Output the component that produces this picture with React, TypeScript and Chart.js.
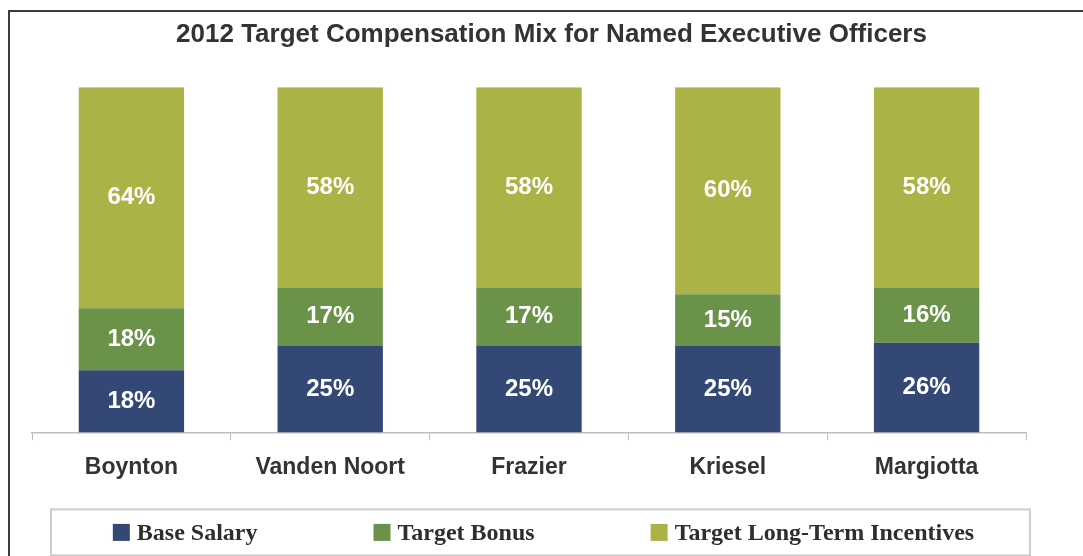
import React, { useEffect, useRef } from "react";
import { Chart, registerables } from "chart.js";

Chart.register(...registerables);

const categories = ["Boynton", "Vanden Noort", "Frazier", "Kriesel", "Margiotta"];
const baseSalary = [18, 25, 25, 25, 26];
const targetBonus = [18, 17, 17, 15, 16];
const longTermIncentives = [64, 58, 58, 60, 58];
const seriesNames = ["Base Salary", "Target Bonus", "Target Long-Term Incentives"];
const seriesColors = ["#344876", "#6a9248", "#abb346"];
const chartTitle = "2012 Target Compensation Mix for Named Executive Officers";

const SANS = '"Liberation Sans", Arial, sans-serif';
const SERIF = '"Liberation Serif", "Times New Roman", serif';

const dataLabelPlugin = {
  id: "dataLabels",
  afterDatasetsDraw(chart: any) {
    const ctx = chart.ctx;
    ctx.save();
    ctx.font = `bold 24px ${SANS}`;
    ctx.fillStyle = "#ffffff";
    ctx.textAlign = "center";
    ctx.textBaseline = "middle";
    chart.data.datasets.forEach((ds: any, di: number) => {
      const meta = chart.getDatasetMeta(di);
      meta.data.forEach((el: any, i: number) => {
        const v = ds.data[i];
        const y = (el.y + el.base) / 2;
        ctx.fillText(`${v}%`, el.x, y);
      });
    });
    ctx.restore();
  },
};

const legendPlugin = {
  id: "boxLegend",
  afterDraw(chart: any) {
    const ctx = chart.ctx;
    const area = chart.chartArea;
    ctx.save();
    // frame
    const boxLeft = area.left + 19;
    const boxRight = area.right + 4;
    const boxTop = area.bottom + 77;
    const boxBottom = boxTop + 46;
    ctx.strokeStyle = "#cccccc";
    ctx.lineWidth = 2;
    ctx.strokeRect(boxLeft, boxTop, boxRight - boxLeft, boxBottom - boxTop);
    // items
    ctx.font = `bold 24px ${SERIF}`;
    ctx.textBaseline = "middle";
    ctx.textAlign = "left";
    const box = 17;
    const inner = 7;
    const gap = 116;
    const widths = chart.data.datasets.map((ds: any) => box + inner + ctx.measureText(ds.label).width);
    const total = widths.reduce((a: number, b: number) => a + b, 0) + gap * (widths.length - 1);
    let x = chart.width / 2 + 2 - total / 2;
    const cy = (boxTop + boxBottom) / 2;
    chart.data.datasets.forEach((ds: any, i: number) => {
      ctx.fillStyle = ds.backgroundColor;
      ctx.fillRect(x, cy - box / 2, box, box);
      ctx.fillStyle = "#2e2e2e";
      ctx.fillText(ds.label, x + box + inner, cy + 1);
      x += widths[i] + gap;
    });
    ctx.restore();
  },
};

export default function App() {
  const ref = useRef<HTMLCanvasElement | null>(null);

  useEffect(() => {
    if (!ref.current) return;
    const chart = new Chart(ref.current, {
      type: "bar",
      data: {
        labels: categories,
        datasets: [
          { label: seriesNames[0], data: baseSalary, backgroundColor: seriesColors[0] },
          { label: seriesNames[1], data: targetBonus, backgroundColor: seriesColors[1] },
          { label: seriesNames[2], data: longTermIncentives, backgroundColor: seriesColors[2] },
        ],
      },
      options: {
        responsive: false,
        animation: false,
        layout: { padding: { left: 20, right: 0, top: 0, bottom: 62 } },
        datasets: { bar: { barPercentage: 0.53, categoryPercentage: 1 } },
        scales: {
          x: {
            stacked: true,
            grid: {
              display: true,
              drawOnChartArea: false,
              drawTicks: true,
              tickLength: 8,
              color: "#bdbdbd",
              offset: true,
            },
            border: { display: true, color: "#bdbdbd", width: 1.5 },
            ticks: {
              font: { family: SANS, size: 23, weight: "bold" },
              color: "#333333",
              padding: 13,
            },
          },
          y: {
            stacked: true,
            min: 0,
            max: 100,
            ticks: { display: false },
            grid: { display: false },
            border: { display: false },
            afterFit: (s: any) => {
              s.width = 12;
            },
          },
          y2: {
            type: "linear",
            position: "right",
            display: true,
            ticks: { display: false },
            grid: { display: false },
            border: { display: false },
            afterFit: (s: any) => {
              s.width = 57;
            },
          },
        },
        plugins: {
          legend: { display: false },
          tooltip: { enabled: false },
          title: {
            display: true,
            text: chartTitle,
            color: "#333333",
            font: { family: SANS, size: 26, weight: "bold" },
            padding: { top: 19, bottom: 37 },
          },
        },
      } as any,
      plugins: [dataLabelPlugin, legendPlugin],
    });
    return () => chart.destroy();
  }, []);

  return (
    <div
      style={{
        position: "fixed",
        left: 0,
        top: 0,
        width: 1083,
        height: 556,
        overflow: "hidden",
        background: "#ffffff",
      }}
    >
      <canvas
        ref={ref}
        width={1083}
        height={556}
        style={{ position: "absolute", left: 0, top: 0, width: 1083, height: 556 }}
      />
      <div
        style={{
          position: "absolute",
          left: 8,
          top: 10,
          width: 1200,
          height: 800,
          borderTop: "2px solid #3c3c3c",
          borderLeft: "2px solid #3c3c3c",
          pointerEvents: "none",
        }}
      />
    </div>
  );
}
